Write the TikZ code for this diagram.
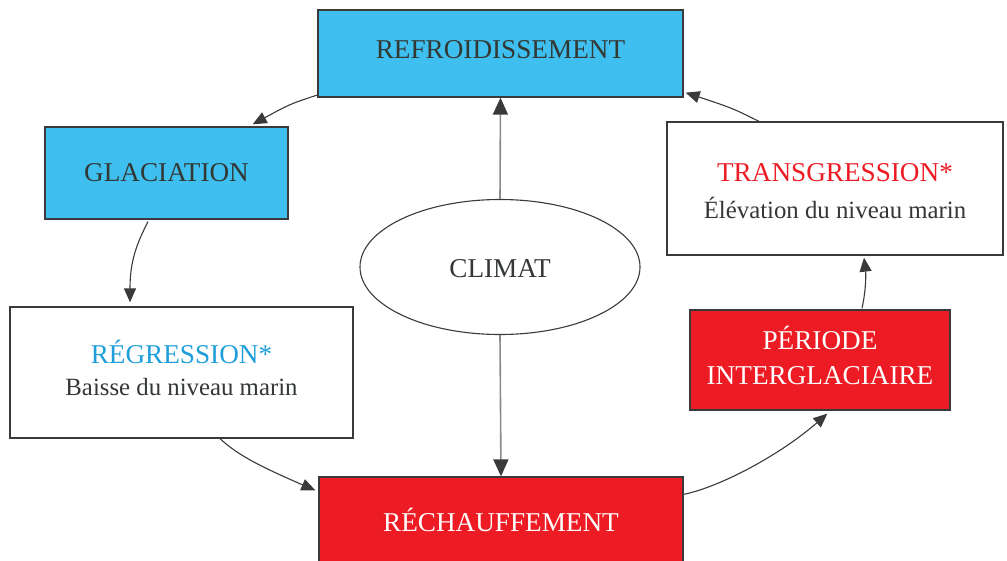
\documentclass[tikz,border=0pt]{standalone}
\usepackage{fontspec}
\setmainfont{Liberation Serif}
\usetikzlibrary{arrows.meta,calc,shapes.geometric}
\definecolor{cblue}{HTML}{3EBFEF}
\definecolor{cred}{HTML}{ED1C24}
\definecolor{ctext}{HTML}{333833}
\definecolor{cedge}{HTML}{3A3A3A}
\definecolor{ctitleblue}{HTML}{1E9FDC}
\definecolor{cgrayline}{HTML}{8A8A8A}
\newcommand{\subfont}{\fontsize{24.8}{28}\selectfont}
\newcommand{\lift}[2]{\raisebox{#1}[\height][\depth]{#2}}
\tikzset{
  box/.style={draw=cedge, line width=1.3pt, rectangle, inner sep=0pt,
    font=\fontsize{27.2}{30}\selectfont, text=ctext},
  bluebox/.style={box, fill=cblue},
  redbox/.style={box, fill=cred, text=white},
  whitebox/.style={box, fill=white},
  conn/.style={draw=cedge, line width=1.1pt, -{Triangle[length=14pt,width=12pt,color=cedge]}},
  vconn/.style={draw=cgrayline, line width=1.6pt, -{Triangle[length=17pt,width=15pt,color=cedge]}},
}
\begin{document}
\begin{tikzpicture}[x=1pt,y=-1pt]
\useasboundingbox (0,0) rectangle (1007,560);
\node[bluebox, minimum width=365pt, minimum height=87pt] (refr) at (500.5,53.5) {\lift{4pt}{REFROIDISSEMENT}};
\node[bluebox, minimum width=243pt, minimum height=92pt] (glac) at (166.5,173) {GLACIATION};
\node[whitebox, minimum width=343pt, minimum height=131pt] (regr) at (181.5,372.5)
  {\begin{tabular}{@{}c@{}}\textcolor{ctitleblue}{RÉGRESSION*}\\[2pt]{\subfont Baisse du niveau marin}\end{tabular}};
\node[redbox, minimum width=364pt, minimum height=86pt] (rech) at (501,520) {RÉCHAUFFEMENT};
\node[redbox, minimum width=260pt, minimum height=100pt] (peri) at (820,360)
  {\begin{tabular}{@{}c@{}}PÉRIODE\\[5pt]INTERGLACIAIRE\end{tabular}};
\node[whitebox, minimum width=336pt, minimum height=133pt] (trans) at (835,188.5)
  {\lift{-5.5pt}{\begin{tabular}{@{}c@{}}\textcolor{cred}{TRANSGRESSION*}\\[6pt]{\subfont Élévation du niveau marin}\end{tabular}}};
\node[draw=cedge, line width=1.1pt, ellipse, minimum width=280pt, minimum height=135pt,
  font=\fontsize{27.2}{30}\selectfont, text=ctext, fill=white] (clim) at (500,267) {\lift{-2pt}{CLIMAT}};

\coordinate (a1s) at ($(refr.south west)+(1,-3)$);
\coordinate (a1e) at ($(glac.north east)+(-36,-2)$);
\coordinate (a2s) at ($(glac.south)+(-18.5,2)$);
\coordinate (a2e) at ($(regr.north)+(-51.5,-4)$);
\coordinate (a3s) at ($(regr.south)+(38.5,0)$);
\coordinate (a3e) at ($(rech.north west)+(-3,14)$);
\coordinate (a4s) at ($(rech.north east)+(0,18)$);
\coordinate (a4e) at ($(peri.south west)+(138,3)$);
\coordinate (a5s) at ($(peri.north)+(42,-1)$);
\coordinate (a5e) at ($(trans.south)+(29,2)$);
\coordinate (a6s) at ($(trans.north)+(-76,0)$);
\coordinate (a6e) at ($(refr.south east)+(2,-5)$);

\draw[conn] (a1s) .. controls (290,104) .. (a1e);
\draw[conn] (a2s) .. controls (136,245) and (130,262) .. (a2e);
\draw[conn] (a3s) .. controls (236,453) and (252,463) .. (a3e);
\draw[conn] (a4s) .. controls (720,487) and (780,455) .. (a4e);
\draw[conn] (a5s) .. controls (866,290) and (866,275) .. (a5e);
\draw[conn] (a6s) .. controls (732,108) .. (a6e);
\draw[vconn] (clim.north) -- (refr.south);
\draw[vconn] (clim.south) -- (rech.north);
\end{tikzpicture}
\end{document}
